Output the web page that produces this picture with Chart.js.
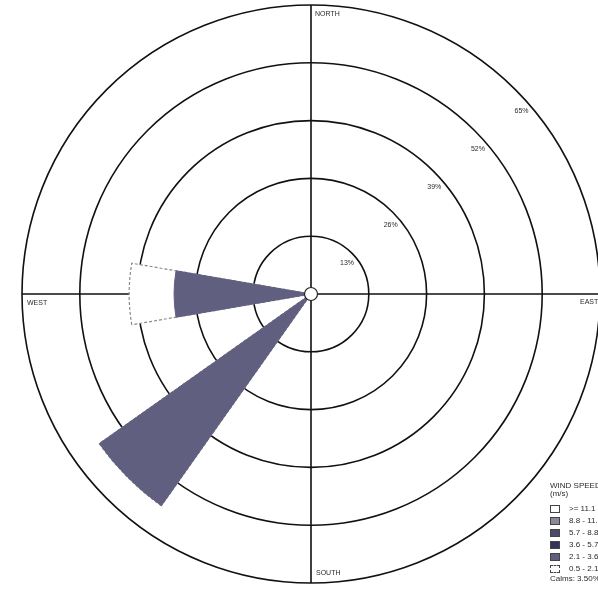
<!DOCTYPE html>
<html>
<head>
<meta charset="utf-8">
<script src="https://cdn.jsdelivr.net/npm/chart.js@4.4.0/dist/chart.umd.min.js"></script>
<style>
  html, body { margin: 0; padding: 0; background: #fff; overflow: hidden; }
  #wrap { position: relative; width: 598px; height: 591px; overflow: hidden; }
  #rose { position: absolute; left: 0; top: 0; }
  #legend {
    position: absolute; left: 550px; top: 482px;
    font: 8px "Liberation Sans", Arial, sans-serif; color: #2a2a2a;
    white-space: nowrap; line-height: 8px;
  }
  #legend .row { height: 12px; display: flex; align-items: center; }
  #legend .box { width: 10px; height: 8px; border: 1px solid #444; margin-right: 9px; box-sizing: border-box; flex: none; }
  #legend .title { margin-bottom: 5px; }
</style>
</head>
<body>
<div id="wrap">
  <canvas id="rose" width="620" height="591"></canvas>
  <div id="legend"></div>
</div>
<script>
// 16方位（北から時計回り）
const directions = ["N", "NNE", "NE", "ENE", "E", "ESE", "SE", "SSE",
                    "S", "SSW", "SW", "WSW", "W", "WNW", "NW", "NNW"];

// 風速階級ごとの出現頻度 (%)
const freq21to36 = [0, 0, 0, 0, 0, 0, 0, 0, 0, 0, 58.3, 0, 30.8, 0, 0, 0];
const freq05to21 = [0, 0, 0, 0, 0, 0, 0, 0, 0, 0, 0, 0, 10.1, 0, 0, 0];

// 同心円の目盛り (%)
const ringStep = 13;
const ringMax = 65;

// 凡例
const speedClasses = [">= 11.1", "8.8 - 11.1", "5.7 - 8.8", "3.6 - 5.7", "2.1 - 3.6", "0.5 - 2.1"];
const classColors = ["#ffffff", "#8a899b", "#4b4a68", "#34345a", "#605f7f", "#ffffff"];
const calmsText = "Calms: 3.50%";

const compass = ["NORTH", "EAST", "SOUTH", "WEST"];

// 内側から積み上げ
const cumInner = freq21to36.slice();
const cumOuter = freq21to36.map((v, i) => v + freq05to21[i]);

// 扇の幅（度）: 値のある方位は少し細くし、空いた分は前後の空の扇で埋める
const SECTOR = 360 / directions.length;
const PETAL = 19.5;
function arcAngles(values) {
  const n = values.length;
  const b = [];
  for (let i = 0; i <= n; i++) b.push(i * SECTOR - SECTOR / 2);
  values.forEach((v, i) => {
    const prev = values[(i - 1 + n) % n], next = values[(i + 1) % n];
    if (v > 0 && prev === 0 && next === 0) {
      b[i] = i * SECTOR - PETAL / 2;
      b[i + 1] = i * SECTOR + PETAL / 2;
    }
  });
  return values.map((_, i) => b[i + 1] - b[i]);
}
const angles = arcAngles(cumOuter);

// 十字線・静穏円・目盛りラベル
const roseDecor = {
  id: "roseDecor",
  beforeDatasetsDraw(chart) {
    const s = chart.scales.r;
    const ctx = chart.ctx;
    const cx = s.xCenter, cy = s.yCenter, R = s.drawingArea;
    ctx.save();
    ctx.strokeStyle = "#111";
    ctx.lineWidth = 1.6;
    ctx.beginPath();
    ctx.moveTo(cx - R, cy); ctx.lineTo(cx + R, cy);
    ctx.moveTo(cx, cy - R); ctx.lineTo(cx, cy + R);
    ctx.stroke();
    ctx.restore();
  },
  afterDatasetsDraw(chart) {
    const s = chart.scales.r;
    const ctx = chart.ctx;
    const cx = s.xCenter, cy = s.yCenter, R = s.drawingArea;
    ctx.save();
    // 静穏円
    ctx.beginPath();
    ctx.arc(cx, cy, 6.5, 0, Math.PI * 2);
    ctx.fillStyle = "#fff";
    ctx.fill();
    ctx.strokeStyle = "#222";
    ctx.lineWidth = 1.2;
    ctx.stroke();

    ctx.fillStyle = "#2a2a2a";
    ctx.font = "7px 'Liberation Sans', Arial, sans-serif";
    ctx.textAlign = "center";
    ctx.textBaseline = "middle";
    const a = 49 * Math.PI / 180;
    s.ticks.forEach((t) => {
      if (t.value === 0) return;
      const d = s.getDistanceFromCenterForValue(t.value) - 10;
      ctx.fillText(t.value + "%", cx + d * Math.sin(a), cy - d * Math.cos(a));
    });

    ctx.textAlign = "left";
    ctx.fillText(compass[0], cx + 4, cy - R + 9);
    ctx.fillText(compass[1], cx + R - 20, cy + 8);
    ctx.fillText(compass[2], cx + 5, cy + R - 10);
    ctx.fillText(compass[3], cx - R + 5, cy + 9);
    ctx.restore();
  },
};

new Chart(document.getElementById("rose"), {
  type: "polarArea",
  data: {
    labels: directions,
    datasets: [
      {
        label: speedClasses[4],
        data: cumInner,
        angle: angles,
        backgroundColor: classColors[4],
        borderColor: classColors[4],
        borderWidth: 1,
      },
      {
        label: speedClasses[5],
        data: cumOuter,
        angle: angles,
        backgroundColor: classColors[5],
        borderColor: "#8a8a8a",
        borderWidth: 1.2,
        borderDash: [3, 2],
      },
    ],
  },
  options: {
    responsive: false,
    animation: false,
    layout: { padding: { left: 22, right: 20, top: 5, bottom: 8 } },
    plugins: { legend: { display: false }, tooltip: { enabled: false } },
    scales: {
      r: {
        min: 0,
        max: ringMax,
        startAngle: -SECTOR / 2,
        ticks: { display: false, stepSize: ringStep },
        grid: { circular: true, color: "#111", lineWidth: 1.6 },
        angleLines: { display: false },
        pointLabels: { display: false },
      },
    },
  },
  plugins: [roseDecor],
});

// 凡例（HTML）
const legendEl = document.getElementById("legend");
let html = '<div>WIND SPEED</div><div class="title">(m/s)</div>';
speedClasses.forEach((c, i) => {
  const dash = i === 5 ? "border-style:dashed;" : "";
  html += '<div class="row"><span class="box" style="background:' + classColors[i] + ';' + dash + '"></span>' + c + "</div>";
});
html += "<div>" + calmsText + "</div>";
legendEl.innerHTML = html;
</script>
</body>
</html>
